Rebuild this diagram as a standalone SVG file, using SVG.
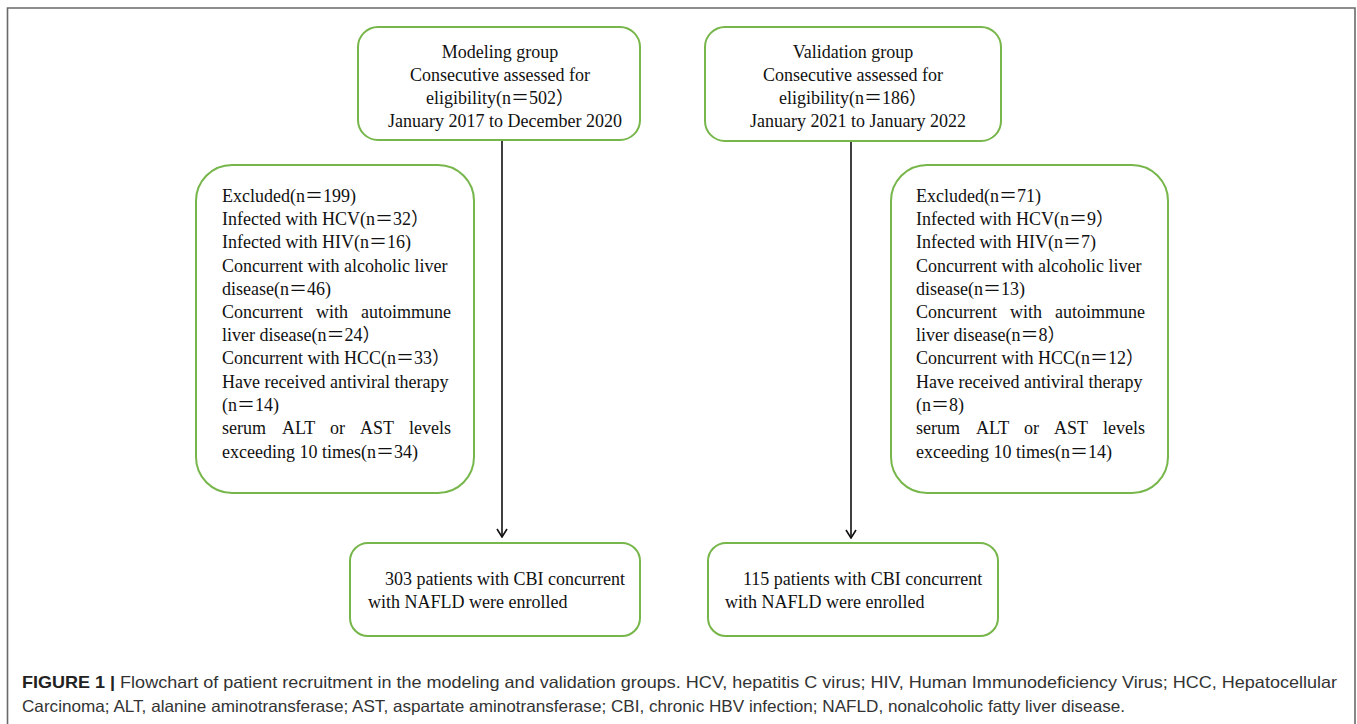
<svg xmlns="http://www.w3.org/2000/svg" width="1357" height="724" viewBox="0 0 1357 724">
<style>
.box{fill:#fff;stroke:#77b64a;stroke-width:2}
.t{font-family:"Liberation Serif","Noto Sans CJK SC",serif;font-size:18px;fill:#111}
.c{text-anchor:middle}
.e{text-anchor:end}
.cap{font-family:"Liberation Sans",Arial,sans-serif;font-size:16.5px;fill:#333}
.conn{stroke:#111;stroke-width:1.6;fill:none}
</style>
<defs>
<marker id="arr" viewBox="0 0 12 12" refX="11" refY="6" markerWidth="12" markerHeight="12" markerUnits="userSpaceOnUse" orient="auto">
<path d="M3,1 L11,6 L3,11" fill="none" stroke="#111" stroke-width="1.6"/>
</marker>
</defs>
<rect x="0" y="0" width="1357" height="724" fill="#fff"/>
<path d="M7.5,724 V8 H1355 V724" fill="none" stroke="#6a6a6a" stroke-width="1.6"/>

<g id="connectors">
<line class="conn" x1="502" y1="141" x2="502" y2="537" marker-end="url(#arr)"/>
<line class="conn" x1="851" y1="142" x2="851" y2="538" marker-end="url(#arr)"/>
</g>

<g id="modeling">
<rect class="box" x="358" y="27" width="282" height="113" rx="20"/>
<text class="t c" x="500" y="58">Modeling group</text>
<text class="t c" x="500" y="81">Consecutive assessed for</text>
<text class="t c" x="500" y="104">eligibility(n＝502）</text>
<text class="t c" x="505" y="127">January 2017 to December 2020</text>
</g>

<g id="validation">
<rect class="box" x="705" y="27" width="296" height="114" rx="20"/>
<text class="t c" x="853" y="58">Validation group</text>
<text class="t c" x="853" y="81">Consecutive assessed for</text>
<text class="t c" x="853" y="104">eligibility(n＝186）</text>
<text class="t c" x="858" y="127">January 2021 to January 2022</text>
</g>

<g id="excluded-modeling">
<rect class="box" x="196" y="165" width="278" height="328" rx="36"/>
<text class="t" x="222" y="202">Excluded(n＝199)</text>
<text class="t" x="222" y="225">Infected with HCV(n＝32）</text>
<text class="t" x="222" y="248">Infected with HIV(n＝16)</text>
<text class="t" x="222" y="272">Concurrent with alcoholic liver</text>
<text class="t" x="222" y="295">disease(n＝46)</text>
<text class="t" x="222" y="318">Concurrent</text><text class="t" x="316" y="318">with</text><text class="t e" x="451" y="318">autoimmune</text>
<text class="t" x="222" y="341">liver disease(n＝24）</text>
<text class="t" x="222" y="364">Concurrent with HCC(n＝33）</text>
<text class="t" x="222" y="388">Have received antiviral therapy</text>
<text class="t" x="222" y="411">(n＝14)</text>
<text class="t" x="222" y="434">serum</text><text class="t" x="282" y="434">ALT</text><text class="t" x="330" y="434">or</text><text class="t" x="360" y="434">AST</text><text class="t e" x="451" y="434">levels</text>
<text class="t" x="222" y="458">exceeding 10 times(n＝34)</text>
</g>

<g id="excluded-validation">
<rect class="box" x="891" y="165" width="277" height="328" rx="36"/>
<text class="t" x="916" y="202">Excluded(n＝71)</text>
<text class="t" x="916" y="225">Infected with HCV(n＝9）</text>
<text class="t" x="916" y="248">Infected with HIV(n＝7)</text>
<text class="t" x="916" y="272">Concurrent with alcoholic liver</text>
<text class="t" x="916" y="295">disease(n＝13)</text>
<text class="t" x="916" y="318">Concurrent</text><text class="t" x="1010" y="318">with</text><text class="t e" x="1145" y="318">autoimmune</text>
<text class="t" x="916" y="341">liver disease(n＝8）</text>
<text class="t" x="916" y="364">Concurrent with HCC(n＝12）</text>
<text class="t" x="916" y="388">Have received antiviral therapy</text>
<text class="t" x="916" y="411">(n＝8)</text>
<text class="t" x="916" y="434">serum</text><text class="t" x="976" y="434">ALT</text><text class="t" x="1024" y="434">or</text><text class="t" x="1054" y="434">AST</text><text class="t e" x="1145" y="434">levels</text>
<text class="t" x="916" y="458">exceeding 10 times(n＝14)</text>
</g>

<g id="enrolled-modeling">
<rect class="box" x="350" y="543" width="290" height="93" rx="18"/>
<text class="t" x="385" y="585">303 patients with CBI concurrent</text>
<text class="t" x="368" y="608">with NAFLD were enrolled</text>
</g>

<g id="enrolled-validation">
<rect class="box" x="708" y="543" width="290" height="93" rx="18"/>
<text class="t" x="743" y="585">115 patients with CBI concurrent</text>
<text class="t" x="725" y="608">with NAFLD were enrolled</text>
</g>

<g id="caption">
<text class="cap" x="22" y="688" textLength="1315" lengthAdjust="spacingAndGlyphs"><tspan font-weight="bold" fill="#222">FIGURE 1 |</tspan> Flowchart of patient recruitment in the modeling and validation groups. HCV, hepatitis C virus; HIV, Human Immunodeficiency Virus; HCC, Hepatocellular</text>
<text class="cap" x="22" y="712" textLength="1103" lengthAdjust="spacingAndGlyphs">Carcinoma; ALT, alanine aminotransferase; AST, aspartate aminotransferase; CBI, chronic HBV infection; NAFLD, nonalcoholic fatty liver disease.</text>
</g>
</svg>
